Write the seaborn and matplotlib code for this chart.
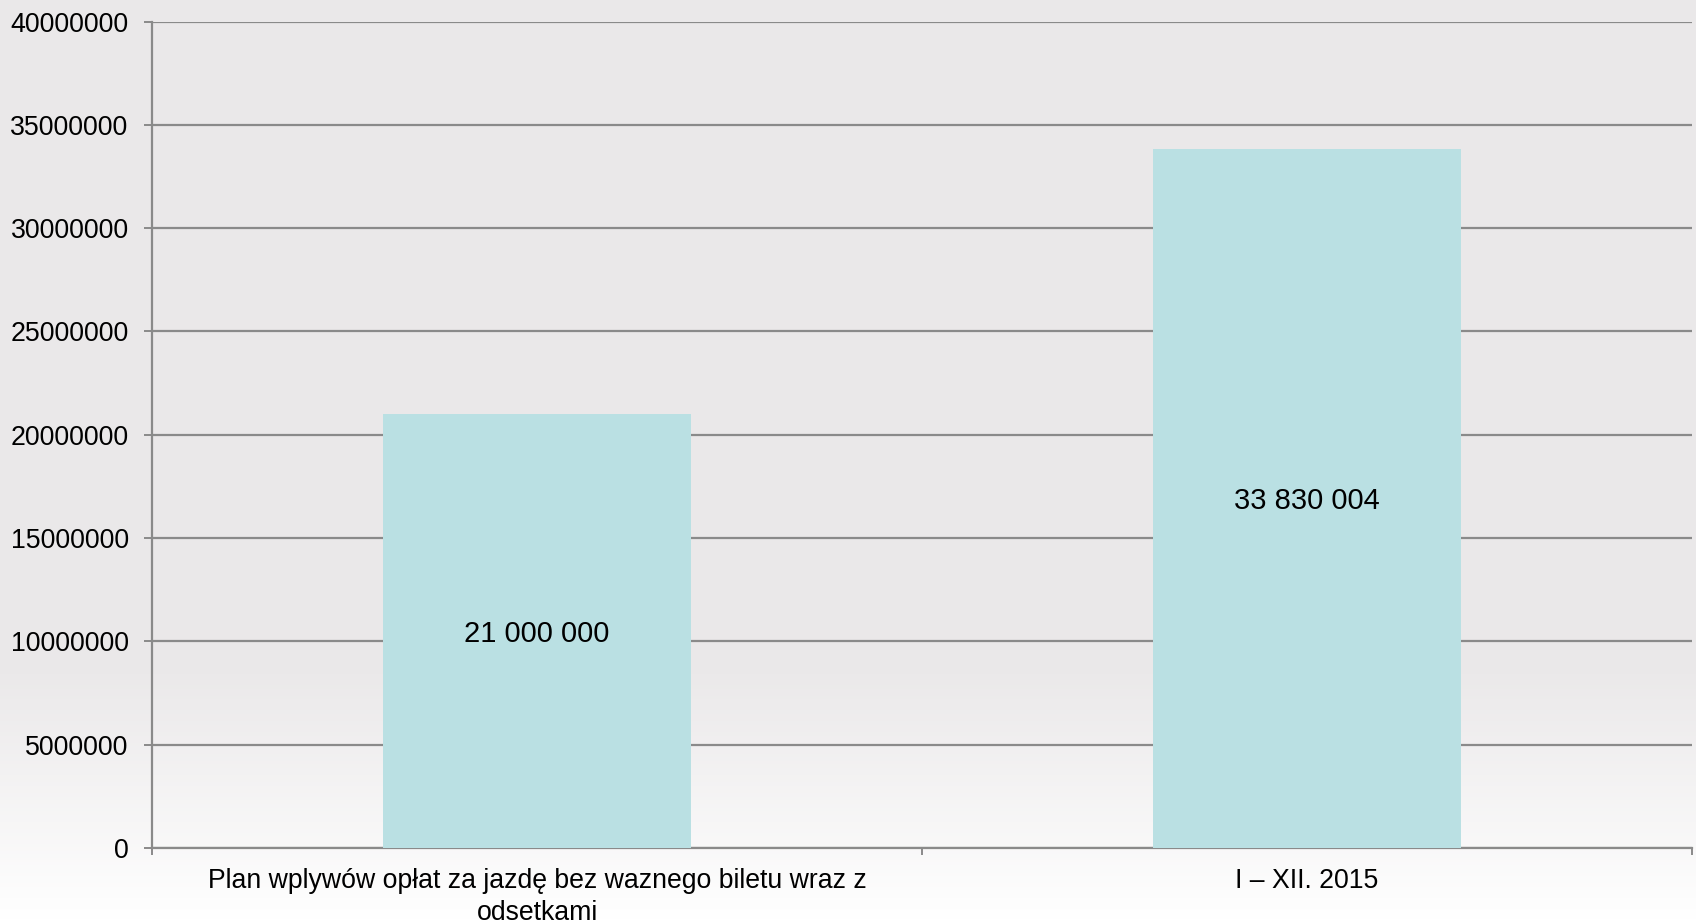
import numpy as np
import pandas as pd
import matplotlib
matplotlib.use("Agg")
import matplotlib.pyplot as plt
import seaborn as sns

categories = ["Plan wplywów opłat za jazdę bez waznego biletu wraz z\nodsetkami", "I – XII. 2015"]
values = [21000000, 33830004]
value_labels = ["21 000 000", "33 830 004"]
y_ticks = [0, 5000000, 10000000, 15000000, 20000000, 25000000, 30000000, 35000000, 40000000]

sns.set_theme(style="white")
plt.rcParams['font.family'] = ['Liberation Sans', 'DejaVu Sans']

bg = "#EAE8E9"
bar_color = "#BAE0E3"
grid_color = "#8A8A8A"

fig = plt.figure(figsize=(16.96, 9.23), dpi=100)
fig.patch.set_facecolor(bg)

# background gradient (light grey fading to white at the bottom)
bgax = fig.add_axes([0, 0, 1, 1], zorder=-10)
t = np.linspace(0, 1, 256)
fade = np.clip((t - 0.72) / 0.28, 0, 1)
c0 = np.array([0xEA, 0xE8, 0xE9]) / 255
c1 = np.array([1.0, 1.0, 1.0])
img = (c0[None, :] * (1 - fade[:, None]) + c1[None, :] * fade[:, None])[:, None, :]
bgax.imshow(img, aspect="auto", extent=[0, 1, 0, 1], origin="upper")
bgax.set_axis_off()

ax = fig.add_axes([152 / 1696, 1 - 848 / 923, (1692 - 152) / 1696, (848 - 21.5) / 923])
ax.patch.set_alpha(0)

df = pd.DataFrame({"cat": categories, "val": values})
sns.barplot(data=df, x="cat", y="val", color=bar_color, width=0.4, ax=ax,
            saturation=1, edgecolor="none", zorder=3)

ax.set_ylim(0, 40000000)
ax.set_xlim(-0.5, 1.5)
ax.set_yticks(y_ticks)
ax.set_yticklabels([str(v) for v in y_ticks], fontsize=19.3, color="#000000")
ax.yaxis.grid(True, color=grid_color, linewidth=1.6, zorder=0)
ax.set_axisbelow(True)

# x ticks at category boundaries, labels at centers
ax.set_xticks([-0.5, 0.5, 1.5])
ax.set_xticklabels([])
ax.set_xticks([0, 1], minor=True)
ax.set_xticklabels(categories, minor=True, fontsize=19.2, color="#000000", linespacing=1.3)
ax.tick_params(axis="x", which="major", length=5, width=1.4, color=grid_color, direction="out", bottom=True)
ax.tick_params(axis="x", which="minor", length=0, pad=14.5)
ax.tick_params(axis="y", length=5.8, width=1.4, color=grid_color, direction="out", left=True, pad=11)

ax.set_xlabel("")
ax.set_ylabel("")
for s in ["top", "right"]:
    ax.spines[s].set_visible(False)
for s in ["left", "bottom"]:
    ax.spines[s].set_color(grid_color)
    ax.spines[s].set_linewidth(1.6)

for i, (v, lab) in enumerate(zip(values, value_labels)):
    ax.text(i, v / 2, lab, ha="center", va="center_baseline", fontsize=21, color="#000000", zorder=5)

fig.savefig("out.png", dpi=100, facecolor=fig.get_facecolor())
